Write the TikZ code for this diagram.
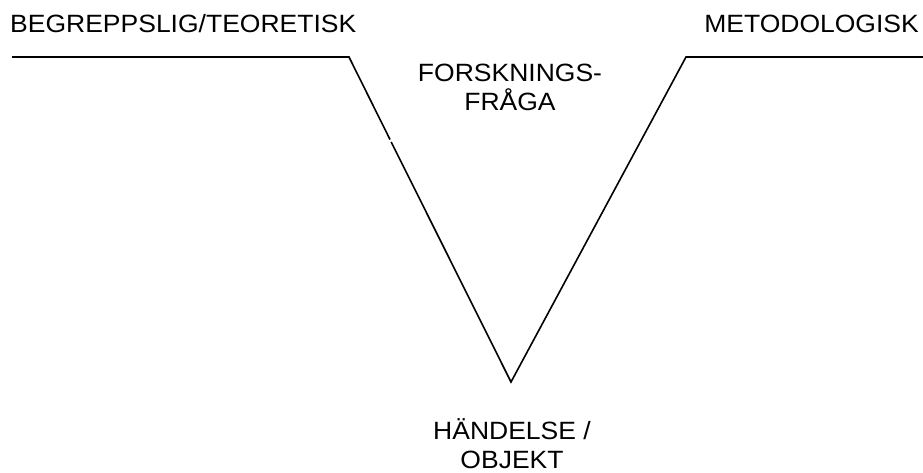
\documentclass[tikz,border=0pt]{standalone}
\usepackage{fontspec}
\setmainfont[FakeStretch=1.06]{Liberation Sans}
\begin{document}
\begin{tikzpicture}[x=1pt,y=-1pt,
  label/.style={inner sep=0pt, font=\fontsize{25}{28.5}\selectfont, align=center},
  edge/.style={line width=1.6pt, line cap=butt, line join=miter}]
  \useasboundingbox (0,0) rectangle (923,472);

  % headings (multi-line nodes: base anchor sits on the last line)
  \node[label, anchor=base west] (theory) at (10,32) {BEGREPPSLIG/TEORETISK};
  \node[label, anchor=base east] (method) at (919,32) {METODOLOGISK};
  \node[label, anchor=base] (question) at (510,110) {FORSKNINGS-\\FRÅGA};
  \node[label, anchor=base] (event) at (512,468) {HÄNDELSE /\\OBJEKT};

  % the V shape
  \coordinate (lstart) at (12,57);
  \coordinate (lbend) at (349,57);
  \coordinate (lbreak1) at (390,139.5);
  \coordinate (lbreak2) at (391.2,142);
  \coordinate (vertex) at (511,382);
  \coordinate (rbend) at (686,57);
  \coordinate (rend) at (923,57);

  \draw[edge] (lstart) -- (lbend) -- (lbreak1);
  \draw[edge] (lbreak2) -- (vertex) -- (rbend) -- (rend);
\end{tikzpicture}
\end{document}
